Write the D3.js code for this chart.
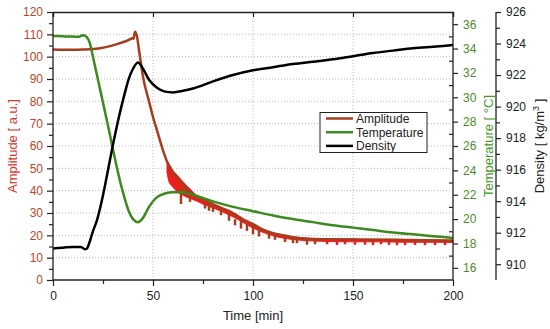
<!DOCTYPE html>
<html><head><meta charset="utf-8">
<script src="https://cdn.jsdelivr.net/npm/d3@7"></script>
<style>body{margin:0;background:#fff}svg{display:block}text{font-family:"Liberation Sans",Arial,sans-serif}</style>
</head><body><svg id="c" width="550" height="329"></svg>
<script>
// ---- data ----
const ampT = [0, 5, 10, 15, 20, 23.5, 28, 32, 36, 38.5, 39.5, 40.2, 41, 42, 43, 45, 48, 50, 52, 55, 57, 60, 63, 66, 70, 75, 80, 85, 90, 95, 100, 105, 110, 115, 120, 125, 130, 140, 150, 160, 170, 180, 190, 200];
const amp  = [103.2, 103.1, 103.1, 103.2, 103.4, 103.8, 104.6, 105.6, 106.8, 107.8, 108.2, 108, 111.2, 109, 103, 91, 80, 73, 67, 58, 53, 48, 44.5, 41.5, 38.5, 36, 34, 32, 30, 27.2, 25, 22.6, 21, 20, 19.2, 18.6, 18.3, 18.2, 18.1, 18, 18, 17.9, 17.7, 17.6];
const redT  = [57, 58, 59, 60, 61, 62, 63, 64, 65, 66, 67, 68, 70, 72, 75, 80, 90, 100, 110, 120, 130, 140, 150, 160, 170, 180, 190, 200];
const redHi = [53.5, 52, 50.5, 49, 48, 47, 46, 45, 44, 43, 42, 41.3, 39.3, 37.7, 35.7, 33.6, 29.6, 24.6, 20.9, 19.3, 18.7, 18.5, 18.4, 18.3, 18.2, 18.1, 18, 17.9];
const redLo = [48, 44, 42.5, 41.5, 40.5, 39.5, 39, 38.5, 38, 37.5, 37, 36.8, 36, 35.3, 34, 32.3, 28.3, 23.3, 19.8, 18.1, 17.5, 17.2, 17.1, 17.1, 17.0, 16.9, 16.9, 16.8];
const spikeT = [64, 66, 68.5, 71, 76, 78, 80, 84, 88, 91, 94, 97, 100, 103, 108, 111, 116, 120, 122, 127, 131, 137, 142, 146, 151, 156, 160, 164, 168, 172, 176, 181, 186, 191, 196];
const spikeA = [34, 38, 35, 36.5, 32, 31, 30.5, 29, 26.5, 24.5, 23, 22, 20.5, 19.5, 18.5, 18, 17, 16.5, 16.5, 15.8, 16, 16, 15.7, 16, 15.8, 15.8, 15.6, 16, 15.7, 15.6, 15.6, 15.7, 15.6, 15.6, 15.6];
const tempT = [0, 5, 10, 13, 15, 16.5, 18.5, 20, 22, 24, 26, 28, 30, 32, 34, 36, 38, 40, 42.5, 45, 48, 52, 56, 60, 65, 70, 80, 90, 100, 110, 120, 130, 140, 150, 160, 170, 180, 190, 200];
const temp  = [35.03, 35.0, 34.98, 34.97, 35.1, 35.0, 34.4, 33.3, 31.8, 30.3, 28.8, 27.3, 25.7, 24.2, 22.8, 21.6, 20.6, 20.0, 19.75, 20.1, 21.0, 21.8, 22.1, 22.2, 22.2, 22.0, 21.45, 21.0, 20.65, 20.3, 20.0, 19.75, 19.5, 19.3, 19.1, 18.9, 18.75, 18.6, 18.45];
const densT = [0, 5, 10, 14, 16, 17, 18, 20, 22, 24, 26, 28, 30, 32, 34, 36, 38, 40, 42.5, 45, 48, 52, 56, 60, 65, 70, 80, 90, 100, 110, 120, 130, 140, 150, 160, 170, 180, 190, 200];
const dens  = [911.0, 911.05, 911.1, 911.1, 910.95, 911.0, 911.3, 912.1, 912.8, 913.8, 915.0, 916.3, 917.6, 918.8, 919.9, 920.9, 921.8, 922.4, 922.8, 922.4, 921.7, 921.2, 920.95, 920.9, 921.0, 921.15, 921.6, 922.0, 922.3, 922.5, 922.7, 922.85, 923.0, 923.2, 923.4, 923.55, 923.7, 923.8, 923.9];
const xTicks = [0, 50, 100, 150, 200];
const ampTicks = [0, 10, 20, 30, 40, 50, 60, 70, 80, 90, 100, 110, 120];
const tempTicks = [16, 18, 20, 22, 24, 26, 28, 30, 32, 34, 36];
const densTicks = [910, 912, 914, 916, 918, 920, 922, 924, 926];
const legendNames = ["Amplitude", "Temperature", "Density"];

// ---- layout ----
const svg = d3.select("#c");
const L = 53, R = 453, T = 12, B = 280, DX = 496;
const cBrown = "#a63d1c", cRed = "#ee1c1c", cGreen = "#3c8a1e", cBlack = "#000";
const x = d3.scaleLinear().domain([0, 200]).range([L, R]);
const yA = d3.scaleLinear().domain([0, 120]).range([B, T]);
const yT = d3.scaleLinear().domain([15, 37]).range([B, T]);
const yD = d3.scaleLinear().domain([909, 926]).range([B, T]);

// grid
const g = svg.append("g");
g.selectAll(".gx").data([50, 100, 150]).enter().append("line")
  .attr("x1", d => x(d)).attr("x2", d => x(d)).attr("y1", T).attr("y2", B)
  .attr("stroke", "#bbb").attr("stroke-width", 1).attr("stroke-dasharray", "1,2");
g.selectAll(".gy").data(ampTicks.slice(1, -1)).enter().append("line")
  .attr("x1", L).attr("x2", R).attr("y1", d => yA(d)).attr("y2", d => yA(d))
  .attr("stroke", "#bbb").attr("stroke-width", 1).attr("stroke-dasharray", "1,2");

// series
const ampLine = d3.line().x((d, i) => x(ampT[i])).y(d => yA(d)).curve(d3.curveMonotoneX);
const band = d3.area().x((d, i) => x(redT[i])).y0((d, i) => yA(redLo[i])).y1(d => yA(d)).curve(d3.curveMonotoneX);
svg.append("path").attr("d", band(redHi)).attr("fill", cRed).attr("stroke", cRed).attr("stroke-width", 1);
svg.selectAll(".sp").data(spikeT).enter().append("line")
  .attr("x1", d => x(d)).attr("x2", d => x(d))
  .attr("y1", d => yA(amp[d3.bisectLeft(ampT, d)]))
  .attr("y2", (d, i) => yA(spikeA[i]))
  .attr("stroke", d => d < 135 ? cBrown : cRed).attr("stroke-width", 2.5);
svg.append("path").attr("d", ampLine(amp)).attr("fill", "none").attr("stroke", cBrown).attr("stroke-width", 2.5);
const tLine = d3.line().x((d, i) => x(tempT[i])).y(d => yT(d)).curve(d3.curveMonotoneX);
svg.append("path").attr("d", tLine(temp)).attr("fill", "none").attr("stroke", cGreen).attr("stroke-width", 2.5);
const dLine = d3.line().x((d, i) => x(densT[i])).y(d => yD(d)).curve(d3.curveMonotoneX);
svg.append("path").attr("d", dLine(dens)).attr("fill", "none").attr("stroke", cBlack).attr("stroke-width", 2.5);

// axes
function styleAxis(sel, txtCol) {
  sel.select(".domain").attr("stroke", "#222").attr("stroke-width", 1.3);
  sel.selectAll(".tick line").attr("stroke", "#222").attr("stroke-width", 1.2);
  sel.selectAll("text").attr("fill", txtCol).style("font-size", "12px").style("font-family", '"Liberation Sans",Arial,sans-serif');
}
function minor(s) { s.select(".domain").remove(); s.selectAll("line").attr("stroke", "#222").attr("stroke-width", 1.2); }
// bottom
const xb = svg.append("g").attr("transform", `translate(0,${B})`)
  .call(d3.axisBottom(x).tickValues(xTicks).tickSize(6).tickPadding(5).tickFormat(d3.format("d")));
styleAxis(xb, "#222");
svg.append("g").attr("transform", `translate(0,${B})`)
  .call(d3.axisBottom(x).tickValues([25, 75, 125, 175]).tickSize(4).tickFormat("")).call(minor);
// top
svg.append("g").attr("transform", `translate(0,${T})`)
  .call(d3.axisTop(x).tickValues(xTicks).tickSize(-5).tickFormat(""))
  .call(s => { s.select(".domain").attr("stroke", "#222").attr("stroke-width", 1.3); s.selectAll("line").attr("stroke", "#222").attr("stroke-width", 1.2); });
// left
const yl = svg.append("g").attr("transform", `translate(${L},0)`)
  .call(d3.axisLeft(yA).tickValues(ampTicks).tickSize(6).tickPadding(4));
styleAxis(yl, "#b4482a");
svg.append("g").attr("transform", `translate(${L},0)`)
  .call(d3.axisLeft(yA).tickValues(d3.range(5, 120, 10)).tickSize(4).tickFormat("")).call(minor);
// right temperature
const yr = svg.append("g").attr("transform", `translate(${R},0)`)
  .call(d3.axisRight(yT).tickValues(tempTicks).tickSize(5).tickPadding(5));
styleAxis(yr, "#4d8a26");
svg.append("g").attr("transform", `translate(${R},0)`)
  .call(d3.axisRight(yT).tickValues(d3.range(17, 37, 2)).tickSize(-4).tickFormat("")).call(minor);
// density
const yd = svg.append("g").attr("transform", `translate(${DX},0)`)
  .call(d3.axisRight(yD).tickValues(densTicks).tickSize(5).tickPadding(5));
styleAxis(yd, "#222");
svg.append("g").attr("transform", `translate(${DX},0)`)
  .call(d3.axisRight(yD).tickValues(d3.range(911, 926, 2)).tickSize(4).tickFormat("")).call(minor);
yd.select(".domain").attr("d", `M0,${T}V${B}`);
yr.select(".domain").attr("d", `M0,${T}V${B}`);
yl.select(".domain").attr("d", `M0,${T}V${B}`);
xb.select(".domain").attr("d", `M${L},0H${R}`);

// titles
svg.append("text").attr("x", (L + R) / 2).attr("y", 320).attr("text-anchor", "middle")
  .style("font-size", "13px").attr("fill", "#222").text("Time [min]");
svg.append("text").attr("transform", `translate(17,${(T + B) / 2}) rotate(-90)`).attr("text-anchor", "middle")
  .style("font-size", "13px").attr("fill", "#d8342c").text("Amplitude [ a.u.]");
svg.append("text").attr("transform", `translate(493,${(T + B) / 2}) rotate(-90)`).attr("text-anchor", "middle")
  .style("font-size", "13px").attr("fill", "#3f9a26").text("Temperature [ °C]");
const dt = svg.append("text").attr("transform", `translate(544,${(T + B) / 2}) rotate(-90)`).attr("text-anchor", "middle")
  .style("font-size", "13px").attr("fill", "#222");
dt.append("tspan").text("Density [ kg/m");
dt.append("tspan").attr("dy", -5).style("font-size", "9px").text("3");
dt.append("tspan").attr("dy", 5).text(" ]");

// legend
const lg = svg.append("g");
lg.append("rect").attr("x", 320).attr("y", 112.5).attr("width", 107).attr("height", 40)
  .attr("fill", "#fff").attr("stroke", "#222").attr("stroke-width", 1);
const lc = [cBrown, cGreen, cBlack];
legendNames.forEach((n, i) => {
  const yy = 118.5 + i * 13.7;
  lg.append("line").attr("x1", 326).attr("x2", 353).attr("y1", yy).attr("y2", yy).attr("stroke", lc[i]).attr("stroke-width", 2.5);
  lg.append("text").attr("x", 356).attr("y", yy + 4.5).style("font-size", "12px").attr("fill", "#222").text(n);
});
</script></body></html>
